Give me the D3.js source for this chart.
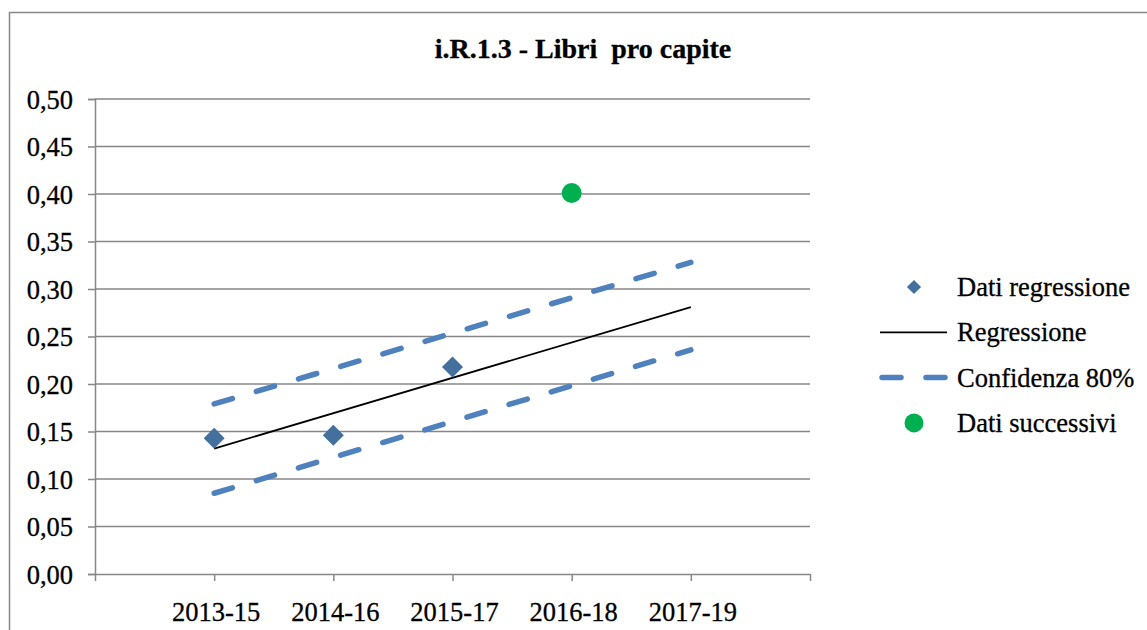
<!DOCTYPE html>
<html>
<head>
<meta charset="utf-8">
<script src="https://cdn.jsdelivr.net/npm/d3@7"></script>
<style>
  html, body { margin: 0; padding: 0; background: #fff; }
  svg { display: block; }
  svg text { font-family: "Liberation Serif", "DejaVu Serif", serif; fill: #000; stroke: #000; stroke-width: 0.3px; }
</style>
</head>
<body>
<div id="chart"></div>
<script>
const categories = ["2013-15", "2014-16", "2015-17", "2016-18", "2017-19"];
const regressionData = [0.143, 0.146, 0.218];
const regressionLine = [0.132, 0.281];
const confUpper = [0.179, 0.328];
const confLower = [0.085, 0.236];
const laterData = [{ cat: "2016-18", value: 0.401 }];
const yTicks = [0, 0.05, 0.1, 0.15, 0.2, 0.25, 0.3, 0.35, 0.4, 0.45, 0.5];

const width = 1147, height = 630;
const plot = { left: 95, right: 810, top: 99, bottom: 574 };
const blue = "#4f81bd", dark = "#44709d", green = "#00b050", grid = "#878787";
const fontSize = 26.5;

const svg = d3.select("#chart").append("svg").attr("width", width).attr("height", height);

// outer frame
svg.append("rect").attr("x", 9.5).attr("y", 12.5).attr("width", width + 10).attr("height", height + 10)
  .attr("fill", "none").attr("stroke", grid).attr("stroke-width", 1.5);

const x = d3.scaleLinear().domain([0, categories.length + 1]).range([plot.left, plot.right]);
const catX = (c) => x(categories.indexOf(c) + 1);
const y = d3.scaleLinear().domain([0, 0.5]).range([plot.bottom, plot.top]);
const fmt = (v) => d3.format(".2f")(v).replace(".", ",");

// gridlines
svg.append("g").selectAll("line").data(yTicks.filter((d) => d > 0)).join("line")
  .attr("x1", plot.left).attr("x2", plot.right)
  .attr("y1", (d) => y(d)).attr("y2", (d) => y(d))
  .attr("stroke", grid).attr("stroke-width", 1.5);

// y axis
const yAxis = svg.append("g").attr("transform", `translate(${plot.left},0)`)
  .call(d3.axisLeft(y).tickValues(yTicks).tickFormat(fmt).tickSize(7).tickPadding(15));
yAxis.attr("font-family", null).attr("font-size", null);
yAxis.select(".domain").attr("stroke", grid).attr("stroke-width", 1.5);
yAxis.selectAll(".tick line").attr("stroke", grid).attr("stroke-width", 1.5);
yAxis.selectAll("text").attr("font-size", fontSize).attr("dy", "0.34em");

// x axis
const xAxis = svg.append("g").attr("transform", `translate(0,${plot.bottom})`)
  .call(d3.axisBottom(x).tickValues(d3.range(0, categories.length + 2)).tickFormat("").tickSize(7).tickSizeOuter(0));
xAxis.select(".domain").attr("stroke", grid).attr("stroke-width", 1.5);
xAxis.selectAll(".tick line").attr("stroke", grid).attr("stroke-width", 1.5);
svg.append("g").selectAll("text").data(categories).join("text")
  .attr("x", (d) => catX(d) + 2).attr("y", 621)
  .attr("text-anchor", "middle").attr("font-size", fontSize).text((d) => d);

// confidence bands
const line = d3.line().x((d) => d[0]).y((d) => d[1]);
const ends = [categories[0], categories[categories.length - 1]];
[confUpper, confLower].forEach((band) => {
  svg.append("path").attr("d", line(band.map((v, i) => [catX(ends[i]), y(v)])))
    .attr("fill", "none").attr("stroke", blue).attr("stroke-width", 5.5)
    .attr("stroke-linecap", "round").attr("stroke-dasharray", "19,25");
});

// regression line
svg.append("path").attr("d", line(regressionLine.map((v, i) => [catX(ends[i]), y(v)])))
  .attr("fill", "none").attr("stroke", "#000").attr("stroke-width", 1.8);

// regression data (diamonds)
const diamond = d3.symbol().type(d3.symbolSquare).size(220);
svg.append("g").selectAll("path").data(regressionData).join("path")
  .attr("d", diamond)
  .attr("transform", (d, i) => `translate(${catX(categories[i])},${y(d)}) rotate(45)`)
  .attr("fill", dark);

// later data (green circles)
svg.append("g").selectAll("circle").data(laterData).join("circle")
  .attr("cx", (d) => catX(d.cat)).attr("cy", (d) => y(d.value)).attr("r", 10)
  .attr("fill", green);

// title
svg.append("text").attr("x", 583).attr("y", 58).attr("text-anchor", "middle")
  .attr("font-size", 28).attr("font-weight", "bold").attr("xml:space", "preserve")
  .text("i.R.1.3 - Libri  pro capite");

// legend
const legend = svg.append("g");
const rows = [
  { label: "Dati regressione", kind: "diamond" },
  { label: "Regressione", kind: "line" },
  { label: "Confidenza 80%", kind: "dash" },
  { label: "Dati successivi", kind: "dot" },
];
rows.forEach((r, i) => {
  const cy = 287 + i * 45.3;
  const g = legend.append("g").attr("transform", `translate(0,${cy})`);
  if (r.kind === "diamond") {
    g.append("path").attr("d", d3.symbol().type(d3.symbolSquare).size(100))
      .attr("transform", "translate(914,0) rotate(45)").attr("fill", dark);
  } else if (r.kind === "line") {
    g.append("line").attr("x1", 880).attr("x2", 947).attr("stroke", "#000").attr("stroke-width", 1.8);
  } else if (r.kind === "dash") {
    g.append("line").attr("x1", 882).attr("x2", 946).attr("stroke", blue).attr("stroke-width", 5.5)
      .attr("stroke-linecap", "round").attr("stroke-dasharray", "19,25");
  } else {
    g.append("circle").attr("cx", 914).attr("r", 9.5).attr("fill", green);
  }
  g.append("text").attr("x", 957).attr("y", 9).attr("font-size", fontSize).text(r.label);
});
</script>
</body>
</html>
